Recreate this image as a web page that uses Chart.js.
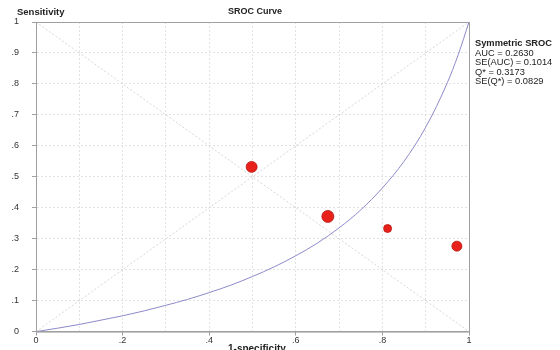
<!DOCTYPE html>
<html>
<head>
<meta charset="utf-8">
<script src="https://cdn.jsdelivr.net/npm/chart.js@4/dist/chart.umd.min.js"></script>
<style>
  body { margin: 0; background: #fff; }
  #wrap { position: relative; width: 560px; height: 350px; overflow: hidden; font-family: "Liberation Sans", Arial, sans-serif; color: #222; }
  canvas { position: absolute; left: 0; top: 0; }
  .lbl { position: absolute; white-space: nowrap; font-size: 9px; line-height: 9.5px; }
  .b { font-weight: bold; }
</style>
</head>
<body>
<div id="wrap">
  <canvas id="sroc" width="560" height="350"></canvas>
  <div class="lbl b" style="left:17px; top:7px; font-size:9.5px;">Sensitivity</div>
  <div class="lbl b" style="left:228px; top:7px;">SROC Curve</div>
  <div class="lbl b" style="left:228px; top:344px; font-size:10px;">1-specificity</div>
  <div class="lbl" style="left:475px; top:39px; font-size:9.3px;">
    <div class="b">Symmetric SROC</div>
    <div>AUC = 0.2630</div>
    <div>SE(AUC) = 0.1014</div>
    <div>Q* = 0.3173</div>
    <div>SE(Q*) = 0.0829</div>
  </div>
</div>
<script>
// ---------------- data ----------------
// studies (1-specificity, sensitivity), weight -> marker size
const studyFpr = [0.498, 0.674, 0.812, 0.972];
const studySens = [0.532, 0.372, 0.333, 0.276];
const studyWeights = [30, 36, 16, 25];

// SROC curve
const curveFpr = [0, 0.05, 0.1, 0.15, 0.2, 0.25, 0.3, 0.35, 0.4, 0.45, 0.5, 0.55, 0.6, 0.65, 0.7, 0.75, 0.8, 0.85, 0.9, 0.95, 0.975, 1];
const curveSens = [0, 0.011, 0.023, 0.037, 0.051, 0.067, 0.085, 0.104, 0.126, 0.150, 0.178, 0.209, 0.245, 0.286, 0.335, 0.393, 0.464, 0.550, 0.660, 0.804, 0.894, 1];

// reference diagonals
const diagX = [0, 1];
const diagUp = [0, 1];
const diagDown = [1, 0];

const yTicks = [0, 0.1, 0.2, 0.3, 0.4, 0.5, 0.6, 0.7, 0.8, 0.9, 1];
const xLabelled = [0, 0.2, 0.4, 0.6, 0.8, 1];

function toPoints(xs, ys) {
    return xs.map((x, i) => ({ x: x, y: ys[i] }));
}

function fmt(v) {
    const r = Math.round(v * 10) / 10;
    if (r === 0) return '0';
    if (r === 1) return '1';
    return '.' + Math.round(r * 10);
}

function isLabelled(v) {
    return xLabelled.some(t => Math.abs(t - v) < 1e-6);
}

// box round the plot area
const boxPlugin = {
    id: 'box',
    afterDatasetsDraw(chart) {
        const a = chart.chartArea;
        const ctx = chart.ctx;
        ctx.save();
        ctx.strokeStyle = '#a0a0a0';
        ctx.lineWidth = 1;
        ctx.strokeRect(a.left + 0.5, a.top + 0.5, a.right - a.left, a.bottom - a.top);
        ctx.restore();
    }
};

const diagStyle = {
    showLine: true,
    borderColor: '#d6d6d6',
    borderWidth: 1,
    borderDash: [2, 2],
    pointRadius: 0,
    fill: false
};

const config = {
    type: 'scatter',
    data: {
        datasets: [
            Object.assign({ data: toPoints(diagX, diagUp) }, diagStyle),
            Object.assign({ data: toPoints(diagX, diagDown) }, diagStyle),
            {
                data: toPoints(curveFpr, curveSens),
                showLine: true,
                borderColor: '#8d8ac8',
                borderWidth: 1,
                pointRadius: 0,
                cubicInterpolationMode: 'monotone'
            },
            {
                data: toPoints(studyFpr, studySens),
                backgroundColor: '#e8221b',
                borderColor: '#b51712',
                borderWidth: 0.8,
                pointRadius: studyWeights.map(w => Math.sqrt(w)),
                pointHoverRadius: studyWeights.map(w => Math.sqrt(w))
            }
        ]
    },
    options: {
        responsive: false,
        animation: false,
        devicePixelRatio: 1,
        layout: { padding: { left: 0, right: 91, top: 22, bottom: 0 } },
        plugins: {
            legend: { display: false },
            tooltip: { enabled: false }
        },
        scales: {
            x: {
                type: 'linear',
                min: 0,
                max: 1,
                afterFit: scale => { scale.height = 16; },
                afterBuildTicks: scale => {
                    scale.ticks = yTicks.map(v => ({ value: v }));
                },
                ticks: {
                    autoSkip: false,
                    maxRotation: 0,
                    padding: 0,
                    color: '#333',
                    font: { family: 'Liberation Sans', size: 9 },
                    callback: v => isLabelled(v) ? fmt(v) : ''
                },
                grid: {
                    color: '#e2e2e2',
                    tickLength: 4,
                    tickColor: ctx => isLabelled(ctx.tick.value) ? '#a0a0a0' : 'rgba(0,0,0,0)'
                },
                border: { color: '#a0a0a0', dash: [2, 2] }
            },
            y: {
                type: 'linear',
                min: 0,
                max: 1,
                afterFit: scale => { scale.width = 36; },
                afterBuildTicks: scale => {
                    scale.ticks = yTicks.map(v => ({ value: v }));
                },
                ticks: {
                    autoSkip: false,
                    padding: 13,
                    color: '#333',
                    font: { family: 'Liberation Sans', size: 9 },
                    callback: v => fmt(v)
                },
                grid: {
                    color: '#e2e2e2',
                    tickLength: 4,
                    tickColor: '#a0a0a0'
                },
                border: { color: '#a0a0a0', dash: [2, 2] }
            }
        }
    },
    plugins: [boxPlugin]
};

new Chart(document.getElementById('sroc'), config);
</script>
</body>
</html>
